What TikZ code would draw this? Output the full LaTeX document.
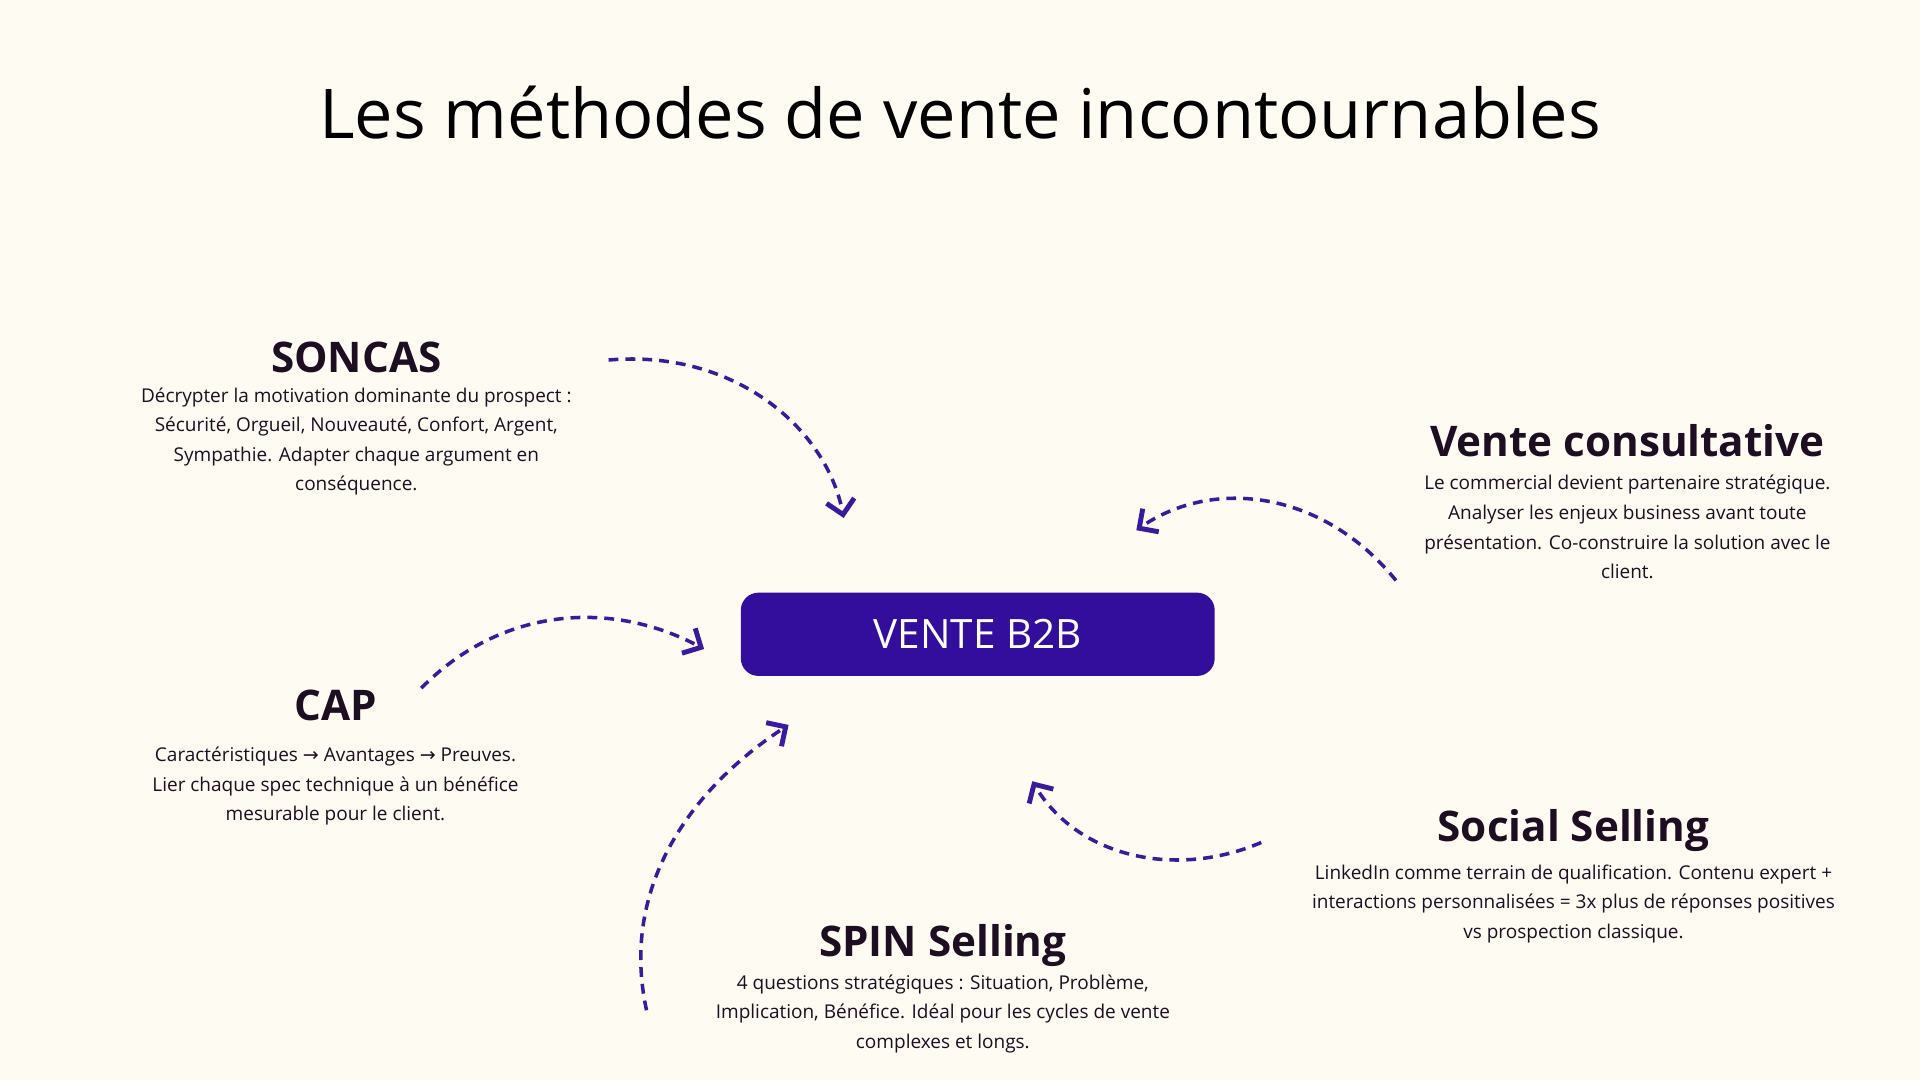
\documentclass[tikz,border=0pt]{standalone}
\usepackage{fontspec}
\setmainfont{Open Sans}
\newfontfamily\symf{DejaVu Sans}
\usetikzlibrary{arrows.meta}
\definecolor{bg}{HTML}{FEFBF3}
\definecolor{violet}{HTML}{330E9C}
\definecolor{arr}{HTML}{3A1A9E}
\definecolor{ink}{HTML}{1E0E22}
\newcommand{\rarr}{{\symf →}}
\tikzset{
  head/.style={font=\fontsize{12}{14}\selectfont\bfseries, text=ink, inner sep=0pt},
  body/.style={font=\fontsize{5.4}{8.4}\selectfont, text=ink, align=center, inner sep=0pt},
  conn/.style={draw=arr, line width=1pt, dash pattern=on 2.8pt off 2pt, -{Straight Barb[length=4pt,width=8pt,line width=1.4pt]}}
}
\begin{document}
\begin{tikzpicture}[x=0.012245cm, y=-0.012245cm]
\fill[bg] (0,0) rectangle (1568,882);
\useasboundingbox (0,0) rectangle (1568,882);
\node[font=\fontsize{19.5}{24}\selectfont, text=black] (title) at (784,92) {Les méthodes de vente incontournables};
\node[fill=violet, rounded corners=5pt, minimum width=387*0.012245cm, minimum height=68*0.012245cm, text=white, font=\fontsize{11.5}{14}\selectfont] (core) at (798.5,518) {VENTE B2B};

\node[head] (h1) at (291,292) {SONCAS};
\node[body] (b1) at (291,360.5) {Décrypter la motivation dominante du prospect :\\Sécurité, Orgueil, Nouveauté, Confort, Argent,\\Sympathie. Adapter chaque argument en\\conséquence.};
\node[head] (h2) at (1329,360) {Vente consultative};
\node[body] (b2) at (1329,430.5) {Le commercial devient partenaire stratégique.\\Analyser les enjeux business avant toute\\présentation. Co-construire la solution avec le\\client.};
\node[head] (h3) at (274,576) {CAP};
\node[body] (b3) at (274,642) {Caractéristiques \rarr{} Avantages \rarr{} Preuves.\\Lier chaque spec technique à un bénéfice\\mesurable pour le client.};
\node[head] (h4) at (770,772) {SPIN Selling};
\node[body] (b4) at (770,828) {4 questions stratégiques : Situation, Problème,\\Implication, Bénéfice. Idéal pour les cycles de vente\\complexes et longs.};
\node[head] (h5) at (1285,678) {Social Selling};
\node[body] (b5) at (1285,738) {LinkedIn comme terrain de qualification. Contenu expert +\\interactions personnalisées = 3x plus de réponses positives\\vs prospection classique.};

\coordinate (s1) at (497,294); \coordinate (e1) at (689,423);
\coordinate (s2) at (1140,474); \coordinate (e2) at (928,433);
\coordinate (s3) at (344,562); \coordinate (e3) at (575,530);
\coordinate (s4) at (528,825); \coordinate (e4) at (644,592);
\coordinate (s5) at (1030,688); \coordinate (e5) at (843,638);
\draw[conn] (s1) .. controls (600,285) and (675,350) .. (e1);
\draw[conn] (s2) .. controls (1080,400) and (990,390) .. (e2);
\draw[conn] (s3) .. controls (410,495) and (500,490) .. (e3);
\draw[conn] (s4) .. controls (505,720) and (570,640) .. (e4);
\draw[conn] (s5) .. controls (960,718) and (880,700) .. (e5);
\end{tikzpicture}
\end{document}
